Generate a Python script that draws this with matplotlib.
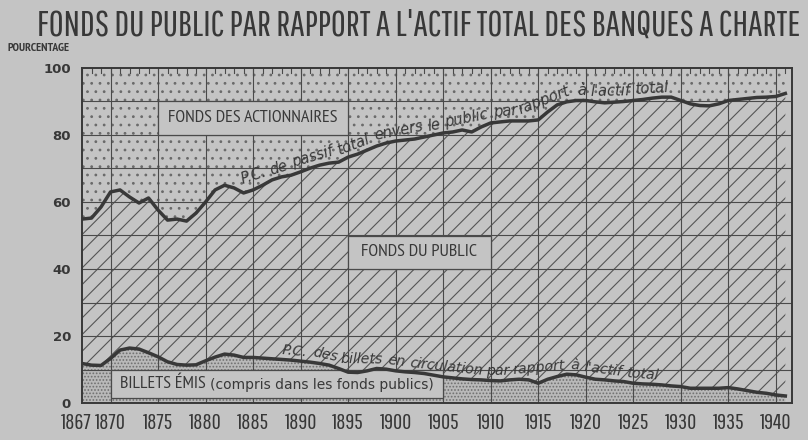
import numpy as np
import matplotlib
matplotlib.use('Agg')
import matplotlib.pyplot as plt
from matplotlib.patches import Rectangle
from matplotlib.transforms import ScaledTranslation

# ---------------- data ----------------
years = list(range(1867, 1942))
public_pct = [54.9, 55.2, 58.5, 63.0, 63.6, 61.5, 59.7, 61.2, 57.6, 54.6,
              54.9, 54.3, 56.7, 60.0, 63.6, 65.0, 64.2, 62.7, 63.6, 65.0,
              66.6, 67.5, 68.0, 69.0, 70.1, 71.0, 71.6, 71.9, 73.4, 74.3,
              75.5, 76.7, 77.6, 78.2, 78.5, 78.8, 79.4, 80.0, 80.6, 80.9,
              81.5, 80.9, 82.4, 83.6, 83.9, 84.2, 84.2, 84.2, 84.5, 86.9,
              89.0, 89.9, 90.3, 90.3, 89.9, 89.6, 89.8, 90.0, 90.3, 90.6,
              91.0, 91.3, 91.3, 90.3, 89.3, 88.8, 88.7, 89.3, 90.3, 90.6,
              90.9, 91.2, 91.3, 91.5, 92.4]
notes_pct = [11.8, 11.3, 11.2, 13.3, 15.8, 16.4, 16.1, 15.0, 13.8, 12.3,
             11.5, 11.3, 11.4, 12.6, 13.7, 14.6, 14.3, 13.6, 13.6, 13.4,
             13.2, 13.0, 12.8, 12.5, 12.2, 11.8, 11.3, 10.3, 9.2, 9.1,
             9.6, 10.3, 10.1, 9.6, 9.3, 9.1, 8.8, 8.3, 7.8, 7.5,
             7.2, 7.0, 6.9, 6.7, 6.6, 6.9, 7.1, 6.9, 5.9, 7.1,
             7.9, 8.6, 8.4, 7.7, 7.1, 6.9, 6.6, 6.4, 5.9, 5.7,
             5.6, 5.4, 5.1, 4.9, 4.4, 4.4, 4.4, 4.4, 4.6, 4.2,
             3.7, 3.2, 2.9, 2.4, 2.1]
xtick_years = [1867, 1870, 1875, 1880, 1885, 1890, 1895, 1900, 1905, 1910,
               1915, 1920, 1925, 1930, 1935, 1940]
ytick_vals = [0, 20, 40, 60, 80, 100]
ytick_labels = ['0', '20', '40', '60', '80', '100']

title = "FONDS DU PUBLIC PAR RAPPORT A L'ACTIF TOTAL DES BANQUES A CHARTE"
label_top = "FONDS DES ACTIONNAIRES"
label_mid = "FONDS DU PUBLIC"
label_bot_caps = "BILLETS ÉMIS"
label_bot_rest = "(compris dans les fonds publics)"
curve_top_text = "P.C. de passif total envers le public par rapport à l'actif total"
curve_bot_text = "P.C. des billets en circulation par rapport à l'actif total"

# ---------------- style ----------------
BG = '#c4c4c4'
INK = '#383838'
GRID = '#4a4a4a'
GOTHIC = ['Pathway Gothic One', 'Oswald', 'PT Sans Narrow', 'DejaVu Sans']
NARROW = ['PT Sans Narrow', 'IBM Plex Sans Condensed', 'DejaVu Sans']

plt.rcParams['hatch.linewidth'] = 0.8

fig = plt.figure(figsize=(8.08, 4.40), dpi=100, facecolor=BG)
ax = fig.add_axes([82/808, 37/440, 710/808, 335/440])
ax.set_facecolor(BG)
ax.set_xlim(1867, 1941.7)
ax.set_ylim(0, 100)

x = np.array(years, dtype=float)
top = np.array(public_pct)
bot = np.array(notes_pct)

# shareholders' funds (dots)
ax.fill_between(x, top, 100, facecolor=BG, edgecolor='#6a6a6a', linewidth=0,
                hatch='..', zorder=1)
# public funds (diagonal hatch)
ax.fill_between(x, bot, top, facecolor=BG, edgecolor='#555555', linewidth=0,
                hatch='//', zorder=1)
# notes issued (dense stipple)
ax.fill_between(x, 0, bot, facecolor='#b9b9b9', edgecolor='#707070', linewidth=0,
                hatch='.....', zorder=1)

# label boxes (plain background)
for (x0, y0, w, h) in [(1875, 80, 20, 10), (1895, 40, 15, 10), (1870, 1.5, 35, 8.5)]:
    ax.add_patch(Rectangle((x0, y0), w, h, facecolor=BG, edgecolor=GRID,
                           linewidth=0.9, zorder=2))

# grid
ax.set_xticks(xtick_years)
ax.set_xticklabels([str(v) for v in xtick_years], family=GOTHIC, fontsize=16,
                   color=INK)
ax.set_yticks(ytick_vals)
ax.set_yticklabels(ytick_labels, fontsize=9.5, fontweight='bold', color=INK)
ax.tick_params(axis='both', which='both', length=0)
ax.tick_params(axis='x', pad=7)
ax.tick_params(axis='y', pad=8)
first = ax.get_xticklabels()[0]
first.set_transform(first.get_transform() + ScaledTranslation(-6/100, 0, fig.dpi_scale_trans))
for xv in xtick_years[1:]:
    ax.axvline(xv, color=GRID, linewidth=0.8, zorder=1.5)
for yv in range(10, 100, 10):
    ax.axhline(yv, color=GRID, linewidth=0.8, zorder=1.5)
# small ticks on the top edge
for xv in years:
    ax.plot([xv, xv], [100, 98.6], color=GRID, linewidth=0.8, zorder=3)

for sp in ax.spines.values():
    sp.set_color(INK)
    sp.set_linewidth(1.4)
    sp.set_zorder(5)

# curves
ax.plot(x, top, color=INK, linewidth=2.5, zorder=4, solid_joinstyle='round')
ax.plot(x, bot, color=INK, linewidth=2.5, zorder=4, solid_joinstyle='round')

# box labels
ax.text(1885, 85, label_top, ha='center', va='center', family=NARROW,
        fontsize=13, color=INK, zorder=3)
ax.text(1902.5, 45, label_mid, ha='center', va='center', family=NARROW,
        fontsize=13, color=INK, zorder=3)
t1 = ax.text(1871.0, 5.6, label_bot_caps + ' ', ha='left', va='center', family=NARROW,
             fontsize=13, color=INK, zorder=3)
ax.annotate(label_bot_rest, xy=(1, 0), xycoords=t1, xytext=(0, 0),
            textcoords='offset points', ha='left', va='bottom',
            family='DejaVu Sans', fontsize=10, color=INK, zorder=3)

# titles
fig.text(419/808, 1 - 25/440, title, ha='center', va='center', family=GOTHIC,
         fontsize=26.2, color=INK)
fig.text(8/808, 1 - 48/440, "POURCENTAGE", ha='left', va='center', family=NARROW,
         fontsize=8.5, fontweight='bold', color=INK)


# text following a curve
def text_along(ax, xs, ys, text, x_start, offset, **kw):
    fig = ax.figure
    fig.canvas.draw()
    r = fig.canvas.get_renderer()
    k = np.ones(3) / 3
    ys_s = np.convolve(np.pad(ys, 1, mode='edge'), k, mode='valid')
    pts = ax.transData.transform(np.column_stack([xs, ys_s]))
    raw = ax.transData.transform(np.column_stack([xs, ys]))
    d = np.hypot(np.diff(pts[:, 0]), np.diff(pts[:, 1]))
    s = np.concatenate([[0], np.cumsum(d)])

    def at(si):
        return np.array([np.interp(si, s, pts[:, 0]), np.interp(si, s, pts[:, 1])])

    ta = ax.text(0, 0, 'a a', **kw)
    tb = ax.text(0, 0, 'aa', **kw)
    space = ta.get_window_extent(r).width - tb.get_window_extent(r).width
    ta.remove()
    tb.remove()
    pos = np.interp(x_start, xs, s)
    inv = ax.transData.inverted()
    for word in text.split(' '):
        t = ax.text(0, 0, word, ha='center', va='baseline', rotation_mode='anchor',
                    zorder=6, **kw)
        w = t.get_window_extent(r).width
        p0 = at(pos)
        p1 = at(pos + w)
        dv = p1 - p0
        ang = np.arctan2(dv[1], dv[0])
        nrm = np.array([-np.sin(ang), np.cos(ang)])
        mid = (p0 + p1) / 2
        # keep the baseline clear of the drawn curve under the whole word
        inside = (raw[:, 0] >= p0[0] - 4) & (raw[:, 0] <= p1[0] + 4)
        lift = 0.0
        if inside.any():
            rel = raw[inside] - mid
            lift = max(0.0, float(np.max(rel @ nrm)))
        anchor = mid + nrm * (offset + lift)
        t.set_position(inv.transform(anchor))
        t.set_rotation(np.degrees(ang))
        pos += w + space


text_along(ax, x, top, curve_top_text, 1884.1, 5,
           family='DejaVu Sans', style='italic', fontsize=10.5, color=INK)
text_along(ax, x, bot, curve_bot_text, 1888.0, 5,
           family='DejaVu Sans', style='italic', fontsize=10.2, color=INK)

fig.savefig('out.png', dpi=100, facecolor=BG)
